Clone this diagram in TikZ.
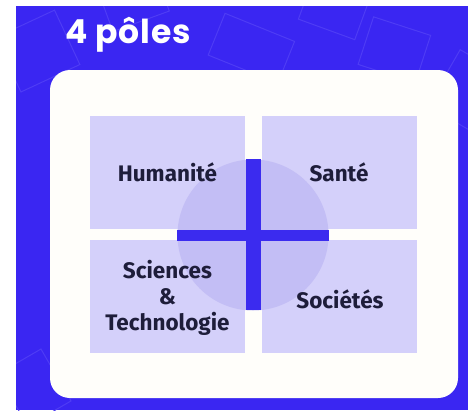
\documentclass[tikz,border=0pt]{standalone}
\usepackage{fontspec}
\setmainfont{Fira Sans}
\newfontfamily\titlefont{Poppins}[LetterSpace=3]
\definecolor{bgblue}{HTML}{3A26F2}
\definecolor{decoline}{HTML}{4E3CF5}
\definecolor{cardwhite}{HTML}{FFFEFA}
\definecolor{cellfill}{HTML}{D4D0FA}
\definecolor{circfill}{HTML}{C3BEF5}
\definecolor{crossblue}{HTML}{3B2BEF}
\definecolor{textnavy}{HTML}{1E1D3A}
\tikzset{
  cellbox/.style={fill=cellfill, draw=none, minimum width=155pt, minimum height=113pt, inner sep=0pt},
  label/.style={text=textnavy, font=\fontsize{22.5}{26}\selectfont\bfseries, align=center, inner sep=0pt},
  deco/.style={draw=decoline, line width=1pt},
}
\begin{document}
\begin{tikzpicture}[x=1pt,y=-1pt]
\useasboundingbox (0,0) rectangle (468,410);
\fill[bgblue] (16,6) rectangle (468,410);
\begin{scope}
\clip (16,6) rectangle (468,410);
\draw[deco, rotate around={-22:(250,45)}] (215,25) rectangle (290,70);
\draw[deco, rotate around={-18:(395,48)}] (365,25) rectangle (425,75);
\draw[deco, rotate around={25:(40,50)}] (5,20) rectangle (70,80);
\draw[deco, rotate around={-30:(460,90)}] (440,55) rectangle (500,120);
\draw[deco, rotate around={30:(30,390)}] (10,360) rectangle (60,420);
\draw[deco, rotate around={-20:(330,20)}] (300,-10) rectangle (360,30);
\draw[deco, rotate around={20:(130,20)}] (110,-15) rectangle (170,25);
\end{scope}
\node[text=white, font=\titlefont\bfseries\fontsize{33}{38}\selectfont, anchor=base west, inner sep=0pt] (title) at (65,43) {4 pôles};
\fill[cardwhite, rounded corners=20pt] (50,70) rectangle (458,398);
\node[cellbox] (c1) at (167.5,172) {};
\node[cellbox] (c2) at (339,172) {};
\node[cellbox] (c3) at (167.5,296.5) {};
\node[cellbox] (c4) at (339,296.5) {};
\node[circle, fill=circfill, minimum size=151pt, inner sep=0pt] (circ) at (253,235) {};
\fill[crossblue] (246,159) rectangle (260.5,310);
\fill[crossblue] (177,230) rectangle (329,241);
\node[label] (t1) at (167.5,172) {Humanité};
\node[label] (t2) at (339,172) {Santé};
\node[label] (t3) at (167.5,298) {Sciences\\\&\\Technologie};
\node[label] (t4) at (340,299) {Sociétés};
\end{tikzpicture}
\end{document}
